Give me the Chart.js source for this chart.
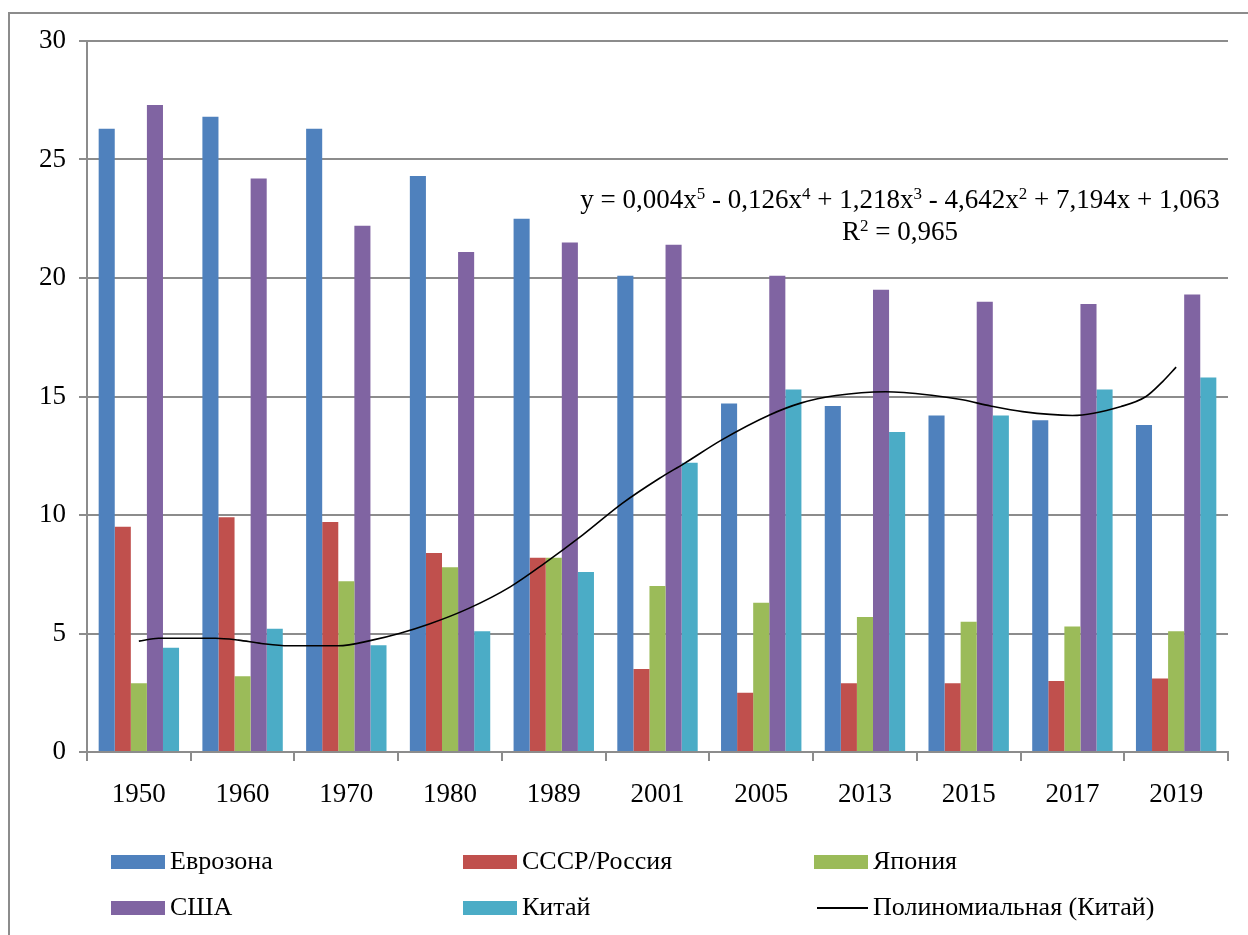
<!DOCTYPE html>
<html>
<head>
<meta charset="utf-8">
<script src="https://cdn.jsdelivr.net/npm/chart.js@4"></script>
<style>
  body { margin: 0; background: #fff; }
  #wrap { position: relative; width: 1248px; height: 935px; overflow: hidden; font-family: "Liberation Serif", serif; }
  #frame { position: absolute; left: 8px; top: 12px; width: 1300px; height: 1000px; border-left: 2px solid #8c8c8c; border-top: 2px solid #8c8c8c; }
  canvas { position: absolute; left: 0; top: 0; }
  #eq { position: absolute; left: 900px; top: 183px; transform: translateX(-50%); text-align: center; font-size: 27px; line-height: 32px; color: #000; white-space: nowrap; }
  #eq sup { font-size: 17px; line-height: 0; vertical-align: 9px; }
  .lg { position: absolute; font-size: 26px; color: #000; white-space: nowrap; line-height: 30px; }
  .lg .sw { position: absolute; left: -59px; top: 9px; width: 54px; height: 14px; }
  .lg .ln { position: absolute; left: -56px; top: 15px; width: 51px; height: 2px; background: #000; }
</style>
</head>
<body>
<div id="wrap">
  <div id="frame"></div>
  <canvas id="chart" width="1248" height="935"></canvas>
  <div id="eq">y = 0,004x<sup>5</sup> - 0,126x<sup>4</sup> + 1,218x<sup>3</sup> - 4,642x<sup>2</sup> + 7,194x + 1,063<br>R<sup>2</sup> = 0,965</div>
  <div id="legend"></div>
</div>
<script>
// данные
const years = ['1950', '1960', '1970', '1980', '1989', '2001', '2005', '2013', '2015', '2017', '2019'];
const eurozone = [26.3, 26.8, 26.3, 24.3, 22.5, 20.1, 14.7, 14.6, 14.2, 14.0, 13.8];
const ussrRussia = [9.5, 9.9, 9.7, 8.4, 8.2, 3.5, 2.5, 2.9, 2.9, 3.0, 3.1];
const japan = [2.9, 3.2, 7.2, 7.8, 8.2, 7.0, 6.3, 5.7, 5.5, 5.3, 5.1];
const usa = [27.3, 24.2, 22.2, 21.1, 21.5, 21.4, 20.1, 19.5, 19.0, 18.9, 19.3];
const china = [4.4, 5.2, 4.5, 5.1, 7.6, 12.2, 15.3, 13.5, 14.2, 15.3, 15.8];

// линия тренда (Китай), точки; x = номер категории (1..11)
const trendX = [1.0, 1.19, 1.74, 1.96, 2.18, 2.44, 2.92, 3.25, 3.51, 3.80, 4.18, 4.58, 4.91, 5.28, 5.66, 6.02, 6.26, 6.62, 7.08, 7.38, 7.72, 8.2, 8.66, 8.94, 9.21, 9.52, 10.0, 10.47, 10.71, 10.87, 11.0];
const trendY = [4.68, 4.80, 4.80, 4.72, 4.58, 4.48, 4.48, 4.72, 5.0, 5.4, 6.06, 6.97, 7.96, 9.16, 10.49, 11.55, 12.18, 13.17, 14.22, 14.72, 15.04, 15.2, 15.04, 14.86, 14.6, 14.36, 14.2, 14.58, 15.0, 15.63, 16.24];

const seriesNames = ['Еврозона', 'СССР/Россия', 'Япония', 'США', 'Китай'];
const seriesColors = ['#4F81BD', '#C0504D', '#9BBB59', '#8064A2', '#4BACC6'];
const seriesData = [eurozone, ussrRussia, japan, usa, china];
const trendName = 'Полиномиальная (Китай)';

const gridColor = '#8c8c8c';
const font = { family: '"Liberation Serif", serif', size: 27 };

const datasets = seriesData.map((d, i) => ({
    type: 'bar',
    label: seriesNames[i],
    data: d,
    backgroundColor: seriesColors[i],
    borderWidth: 0,
    categoryPercentage: 0.775,
    barPercentage: 1.0,
    order: 1
}));

// на категориальной оси значение x — это индекс категории (с нуля)
datasets.push({
    type: 'line',
    label: trendName,
    parsing: false,
    data: trendX.map((x, i) => ({ x: x - 1, y: trendY[i] })),
    borderColor: '#000',
    borderWidth: 1.6,
    pointRadius: 0,
    tension: 0.4,
    cubicInterpolationMode: 'monotone',
    fill: false,
    order: 0
});

const ctx = document.getElementById('chart').getContext('2d');
const chart = new Chart(ctx, {
    type: 'bar',
    data: { labels: years, datasets: datasets },
    options: {
        responsive: false,
        animation: false,
        layout: { padding: { top: 41, right: 20, bottom: 123, left: 0 } },
        plugins: {
            legend: { display: false },
            tooltip: { enabled: false }
        },
        scales: {
            x: {
                type: 'category',
                offset: true,
                grid: { offset: true, drawOnChartArea: false, drawTicks: true, tickLength: 9, color: gridColor, lineWidth: 2 },
                border: { color: gridColor, width: 2 },
                ticks: { font: font, color: '#000', padding: 18, maxRotation: 0 },
                afterFit: function(scale) { scale.height = 60; }
            },
            y: {
                min: 0,
                max: 30,
                ticks: { stepSize: 5, font: font, color: '#000', padding: 13 },
                grid: { color: gridColor, lineWidth: 2, tickLength: 8 },
                border: { color: gridColor, width: 2 },
                afterFit: function(scale) { scale.width = 87; }
            }
        }
    }
});

// легенда в три колонки, как в оригинале
const legendPos = [
    { left: 170, top: 846 }, { left: 522, top: 846 }, { left: 873, top: 846 },
    { left: 170, top: 892 }, { left: 522, top: 892 }, { left: 873, top: 892 }
];
const legendEl = document.getElementById('legend');
const legendItems = seriesNames.concat([trendName]);
legendItems.forEach((name, i) => {
    const item = document.createElement('div');
    item.className = 'lg';
    item.style.left = legendPos[i].left + 'px';
    item.style.top = legendPos[i].top + 'px';
    const mark = document.createElement('span');
    if (i < seriesNames.length) {
        mark.className = 'sw';
        mark.style.background = seriesColors[i];
    } else {
        mark.className = 'ln';
    }
    item.appendChild(mark);
    item.appendChild(document.createTextNode(name));
    legendEl.appendChild(item);
});
</script>
</body>
</html>
